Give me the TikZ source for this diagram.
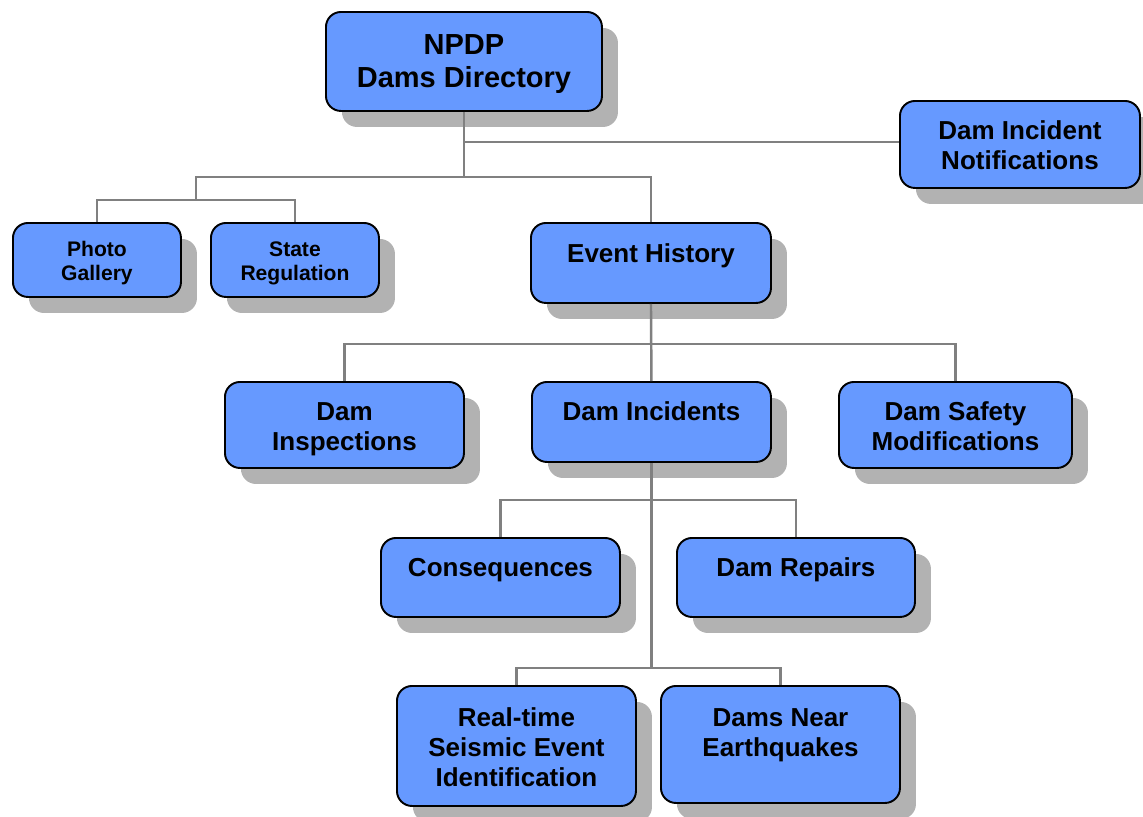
\documentclass[tikz,border=0pt]{standalone}
\usepackage{fontspec}
\setmainfont{Liberation Sans}
\usetikzlibrary{shadows}

\definecolor{boxblue}{HTML}{6699FF}
\definecolor{shadowgray}{HTML}{B2B2B2}
\definecolor{linegray}{HTML}{808080}

\newlength{\unitpx}
\setlength{\unitpx}{0.02cm}
% box text: [first baseline]{width}{height}{text}
\newcommand{\boxtext}[4][40]{\parbox[c][#3\unitpx][t]{#2\unitpx}{\centering\rule{0pt}{#1\unitpx}#4}}

\begin{document}
\begin{tikzpicture}[x=0.02cm, y=-0.02cm,
		box/.style={draw=black, line width=1.1pt, fill=boxblue, rounded corners=0.3cm,
			inner sep=0pt, anchor=north west, font=\bfseries\fontsize{14.8}{17}\selectfont,
			drop shadow={shadow xshift=0.32cm, shadow yshift=-0.32cm, fill=shadowgray, opacity=1}},
		conn/.style={draw=linegray, line width=1.4pt}]
		\useasboundingbox (0,0) rectangle (1143,816);

		% Top level
		\node[box, font=\bfseries\fontsize{16.5}{18.7}\selectfont] (npdp) at (325,11) {\boxtext[43]{276}{99}{NPDP\\Dams Directory}};
		\node[box] (notif) at (899,100) {\boxtext[39]{240}{87}{Dam Incident\\Notifications}};

		% Second level
		\node[box, font=\bfseries\fontsize{12}{13.6}\selectfont] (photo) at (12,222) {\boxtext[34]{168}{74}{Photo\\Gallery}};
		\node[box, font=\bfseries\fontsize{12}{13.6}\selectfont] (state) at (210,222) {\boxtext[34]{168}{74}{State\\Regulation}};
		\node[box] (event) at (530,222) {\boxtext{240}{80}{Event History}};

		% Event history children
		\node[box] (insp) at (224,381) {\boxtext[39]{239}{86}{Dam\\Inspections}};
		\node[box] (incid) at (531,381) {\boxtext[39]{239}{80}{Dam Incidents}};
		\node[box] (mods) at (838,381) {\boxtext[39]{233}{86}{Dam Safety\\Modifications}};

		% Dam incidents children
		\node[box] (cons) at (380,537) {\boxtext[39]{239}{79}{Consequences}};
		\node[box] (rep) at (676,537) {\boxtext[39]{238}{79}{Dam Repairs}};
		\node[box] (seis) at (396,685) {\boxtext[41]{239}{120}{Real-time\\Seismic Event\\Identification}};
		\node[box] (near) at (660,685) {\boxtext[41]{239}{117}{Dams Near\\Earthquakes}};

		% Bus points
		\path (npdp.south) ++(0,30) coordinate (bus0) ++(0,35) coordinate (bus1);
		\coordinate (bus2) at (196,200);
		\path (event.south) ++(0,40) coordinate (bus3);
		\path (incid.south) ++(0,37) coordinate (bus4) ++(0,168) coordinate (bus5);

		% Connectors
		\draw[conn] (npdp.south) -- (bus1);
		\draw[conn] (bus0) -- (bus0 -| notif.west);
		\draw[conn] (event.north) |- (bus1);
		\draw[conn] (bus2) |- (bus1);
		\draw[conn] (photo.north) |- (bus2);
		\draw[conn] (state.north) |- (bus2);

		\draw[conn] (event.south) -- (incid.north);
		\draw[conn] (insp.north) |- (bus3);
		\draw[conn] (mods.north) |- (bus3);

		\draw[conn] (incid.south) -- (bus5);
		\draw[conn] (cons.north) |- (bus4);
		\draw[conn] (rep.north) |- (bus4);
		\draw[conn] (seis.north) |- (bus5);
		\draw[conn] (near.north) |- (bus5);
	\end{tikzpicture}
\end{document}
